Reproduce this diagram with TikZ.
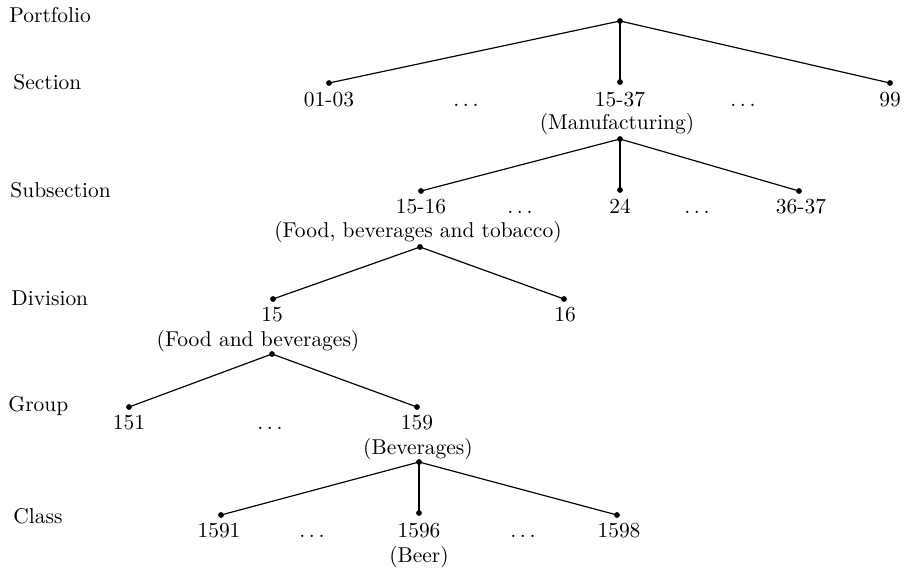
\documentclass[tikz,border=0pt]{standalone}
\begin{document}
\begin{tikzpicture}[x=0.466pt,y=-0.466pt,
  dotnode/.style={circle,fill=black,draw=none,inner sep=0pt,minimum size=2.7pt},
  lab/.style={anchor=base,inner sep=0pt},
  lvl/.style={anchor=base west,inner sep=0pt},
  branch/.style={line width=0.55pt}]
\useasboundingbox (0,0) rectangle (905,568);

% level labels
\node[lvl] (lPortfolio) at (9,23) {Portfolio};
\node[lvl] (lSection) at (13,90) {Section};
\node[lvl] (lSubsection) at (10,198) {Subsection};
\node[lvl] (lDivision) at (11,305) {Division};
\node[lvl] (lGroup) at (8,411) {Group};
\node[lvl] (lClass) at (13,523) {Class};

% dots
\node[dotnode] (root) at (620,21) {};
\node[dotnode] (s1) at (329,83) {};
\node[dotnode] (s2) at (620,82) {};
\node[dotnode] (s3) at (890,83) {};
\node[dotnode] (pManu) at (620,139) {};
\node[dotnode] (ss1) at (421,191) {};
\node[dotnode] (ss2) at (620,190) {};
\node[dotnode] (ss3) at (799,191) {};
\node[dotnode] (pFBT) at (420,247) {};
\node[dotnode] (d1) at (273,299) {};
\node[dotnode] (d2) at (564,299) {};
\node[dotnode] (pFB) at (272,354) {};
\node[dotnode] (g1) at (129,407) {};
\node[dotnode] (g2) at (417,407) {};
\node[dotnode] (pBev) at (419,462) {};
\node[dotnode] (c1) at (221,515) {};
\node[dotnode] (c2) at (419,513) {};
\node[dotnode] (c3) at (617,515) {};

% branches
\draw[branch] (root.center) -- (s1.center);
\draw[branch] (root.center) -- (s2.center);
\draw[branch] (root.center) -- (s3.center);
\draw[branch] (pManu.center) -- (ss1.center);
\draw[branch] (pManu.center) -- (ss2.center);
\draw[branch] (pManu.center) -- (ss3.center);
\draw[branch] (pFBT.center) -- (d1.center);
\draw[branch] (pFBT.center) -- (d2.center);
\draw[branch] (pFB.center) -- (g1.center);
\draw[branch] (pFB.center) -- (g2.center);
\draw[branch] (pBev.center) -- (c1.center);
\draw[branch] (pBev.center) -- (c2.center);
\draw[branch] (pBev.center) -- (c3.center);

% section labels
\node[lab] (t0103) at (329,107) {01-03};
\node[lab] (tsd1) at (466,107) {$\ldots$};
\node[lab] (t1537) at (620,107) {15-37};
\node[lab] (tsd2) at (743,107) {$\ldots$};
\node[lab] (t99) at (890,107) {99};
\node[lab] (tManu) at (617,130) {(Manufacturing)};

% subsection labels
\node[lab] (t1516) at (421,214) {15-16};
\node[lab] (tssd1) at (520,214) {$\ldots$};
\node[lab] (t24) at (620,214) {24};
\node[lab] (tssd2) at (697,214) {$\ldots$};
\node[lab] (t3637) at (801,214) {36-37};
\node[lab] (tFBT) at (418,238) {(Food, beverages and tobacco)};

% division labels
\node[lab] (t15) at (272,322) {15};
\node[lab] (t16) at (565,322) {16};
\node[lab] (tFB) at (258,346) {(Food and beverages)};

% group labels
\node[lab] (t151) at (129,429) {151};
\node[lab] (tgd) at (270,429) {$\ldots$};
\node[lab] (t159) at (417,429) {159};
\node[lab] (tBev) at (418,454) {(Beverages)};

% class labels
\node[lab] (t1591) at (219,537) {1591};
\node[lab] (tcd1) at (312,537) {$\ldots$};
\node[lab] (t1596) at (419,537) {1596};
\node[lab] (tcd2) at (523,537) {$\ldots$};
\node[lab] (t1598) at (619,537) {1598};
\node[lab] (tBeer) at (419,562) {(Beer)};
\end{tikzpicture}
\end{document}
